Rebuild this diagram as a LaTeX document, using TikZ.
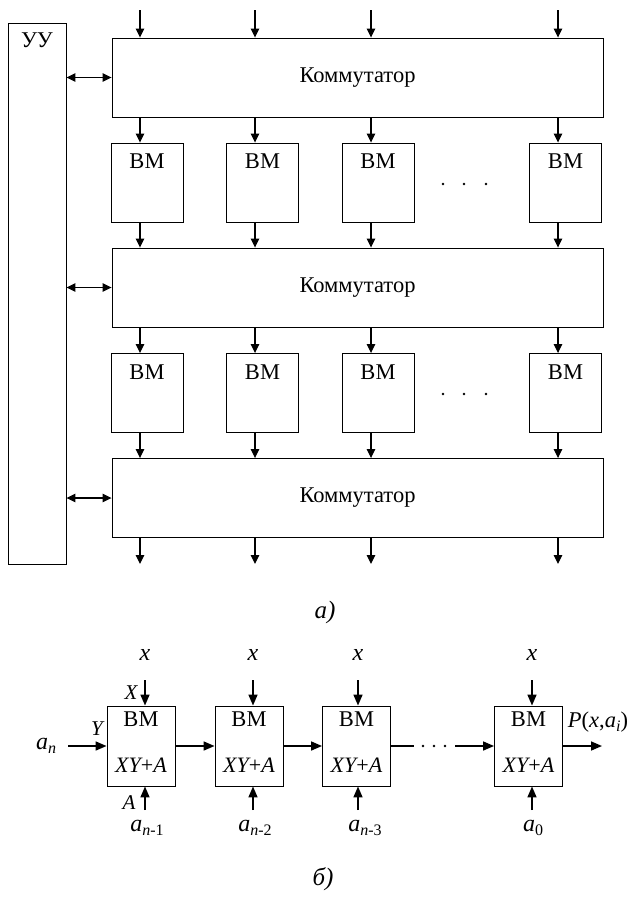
\documentclass[tikz,border=0pt]{standalone}
\usepackage{fontspec}
\setmainfont{Liberation Serif}
\usetikzlibrary{arrows.meta}
\newcommand{\mysub}[1]{\raisebox{-0.4ex}{\fontsize{16}{16}\selectfont #1}}
\begin{document}
\begin{tikzpicture}[x=1pt,y=-1pt,
  comm/.style={draw,line width=0.9pt,inner sep=0pt,minimum width=491pt,minimum height=79pt,font=\fontsize{22.5}{26}\selectfont},
  vm/.style={draw,line width=0.9pt,inner sep=0pt,minimum width=72pt,minimum height=79pt},
  uu/.style={draw,line width=0.9pt,inner sep=0pt,minimum width=58pt,minimum height=541pt},
  bvm/.style={draw,line width=0.9pt,inner sep=0pt,minimum width=68pt,minimum height=80pt},
  txt/.style={inner sep=0pt,font=\fontsize{22.5}{26}\selectfont},
  itxt/.style={inner sep=0pt,font=\fontsize{24}{26}\selectfont\itshape},
  arr/.style={line width=1.1pt,-{Triangle[length=9pt,width=8.5pt]}},
  biarr/.style={line width=1.1pt,{Triangle[length=9pt,width=8.5pt]}-{Triangle[length=9pt,width=8.5pt]}},
  barr/.style={line width=1.6pt,-{Triangle[length=11pt,width=9pt]}},
  bline/.style={line width=1.6pt}]
\useasboundingbox (0,0) rectangle (633,897);

% ---------- part a ----------
\node[uu] (u) at (37,293.5) {};
\node[txt] at (37,40) {УУ};

\node[comm] (c1) at (357.5,77.5) {Коммутатор};
\node[comm] (c2) at (357.5,287.5) {Коммутатор};
\node[comm] (c3) at (357.5,498) {Коммутатор};

\foreach \r/\y in {1/182.5,2/393}{
  \foreach \i/\x in {1/147,2/262.5,3/378,4/565.5}{
    \node[vm] (v\r\i) at (\x,\y) {};
    \node[txt] at ([yshift=-19pt]v\r\i.north) {ВМ};
  }
}

\foreach \i/\x in {1/140,2/255,3/371,4/558}{
  \coordinate (in\i) at (\x,10);
  \coordinate (out\i) at (\x,564);
  \draw[arr] (in\i) -- (in\i |- c1.north);
  \draw[arr] (in\i |- c1.south) -- (in\i |- v1\i.north);
  \draw[arr] (in\i |- v1\i.south) -- (in\i |- c2.north);
  \draw[arr] (in\i |- c2.south) -- (in\i |- v2\i.north);
  \draw[arr] (in\i |- v2\i.south) -- (in\i |- c3.north);
  \draw[arr] (in\i |- c3.south) -- (out\i);
}

\draw[biarr] (u.east |- c1.west) -- (c1.west);
\draw[biarr] (u.east |- c2.west) -- (c2.west);
\draw[biarr] (u.east |- c3.west) -- (c3.west);

\foreach \y in {184,394}{
  \foreach \x in {443,464,486}{
    \fill (\x,\y) circle (1.4pt);
  }
}

\node[itxt,font=\fontsize{25}{26}\selectfont\itshape] (la) at (325,612) {а)};

% ---------- part b ----------
\foreach \i/\x in {1/141,2/249,3/356.5,4/528.5}{
  \node[bvm] (b\i) at (\x,746) {};
  \node[txt] at ([yshift=-14pt]b\i.north) {ВМ};
  \node[itxt,font=\fontsize{22}{24}\selectfont\itshape] at ([yshift=21pt]b\i.south) {XY\upshape{+}\itshape A};
}

\foreach \i/\x in {1/145,2/253,3/358,4/532}{
  \coordinate (xt\i) at (\x,680);
  \coordinate (ab\i) at (\x,810);
  \node[itxt] at (\x,655) {x};
  \draw[barr] (xt\i) -- (xt\i |- b\i.north);
  \draw[barr] (ab\i) -- (ab\i |- b\i.south);
}

\node[itxt] at (147,828) {a\mysub{n\upshape{-1}}};
\node[itxt] at (255,828) {a\mysub{n\upshape{-2}}};
\node[itxt] at (365,828) {a\mysub{n\upshape{-3}}};
\node[itxt] at (533,828) {a\mysub{\upshape 0}};

\node[itxt,font=\fontsize{21}{22}\selectfont\itshape] at (131,693) {X};
\node[itxt,font=\fontsize{21}{22}\selectfont\itshape] at (97,729) {Y};
\node[itxt,font=\fontsize{21}{22}\selectfont\itshape] at (129,803) {A};

\node[itxt] (an) at (46,746) {a\mysub{n}};
\coordinate (ain) at (68,746);
\draw[barr] (ain) -- (b1.west);
\draw[barr] (b1.east) -- (b2.west);
\draw[barr] (b2.east) -- (b3.west);
\coordinate (d1) at (414,746);
\coordinate (d2) at (455,746);
\draw[bline] (b3.east) -- (d1);
\draw[barr] (d2) -- (b4.west);
\foreach \x in {423,434,445}{
  \fill (\x,746) circle (1.4pt);
}
\coordinate (pout) at (602,746);
\draw[barr] (b4.east) -- (pout);
\node[itxt,font=\fontsize{22.5}{24}\selectfont\itshape] at (598,722) {P\upshape(\itshape x\upshape,\itshape a\mysub{i}\upshape)};

\node[itxt,font=\fontsize{25}{26}\selectfont\itshape] (lb) at (323,879) {б)};
\end{tikzpicture}
\end{document}
